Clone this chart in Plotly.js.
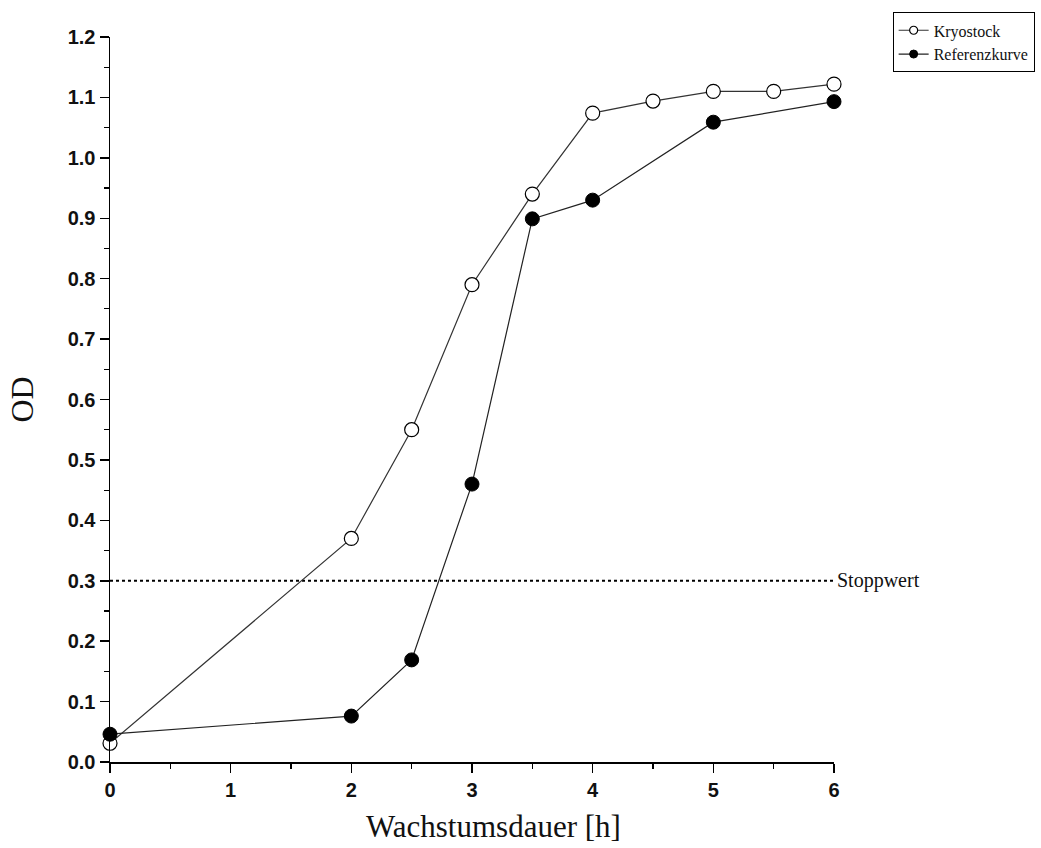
<!DOCTYPE html>
<html>
<head>
<meta charset="utf-8">
<script src="https://cdn.plot.ly/plotly-3.0.1.min.js"></script>
<style>html,body{margin:0;padding:0;background:#fff;}#chart{width:1041px;height:848px;}</style>
</head>
<body>
<div id="chart"></div>
<script>
const kryoX = [0, 2, 2.5, 3, 3.5, 4, 4.5, 5, 5.5, 6];
const kryoY = [0.031, 0.37, 0.55, 0.79, 0.94, 1.074, 1.094, 1.11, 1.11, 1.122];
const refX = [0, 2, 2.5, 3, 3.5, 4, 5, 6];
const refY = [0.046, 0.076, 0.169, 0.46, 0.899, 0.93, 1.059, 1.093];
const stopX = [0, 6];
const stopY = [0.3, 0.3];
const stopLabel = "Stoppwert";
const seriesNames = ["Kryostock", "Referenzkurve"];
const xTitle = "Wachstumsdauer [h]";
const yTitle = "OD";
const xTicks = [0, 1, 2, 3, 4, 5, 6];
const yTicks = [0, 0.1, 0.2, 0.3, 0.4, 0.5, 0.6, 0.7, 0.8, 0.9, 1.0, 1.1, 1.2];

const serif = 'Liberation Serif, Times New Roman, serif';
const traces = [
  {x: stopX, y: stopY, mode: 'lines', line: {color: '#000', width: 2, dash: 'dot'}, showlegend: false, hoverinfo: 'skip'},
  {x: kryoX, y: kryoY, name: seriesNames[0], mode: 'lines+markers', cliponaxis: false, showlegend: false,
   line: {color: '#333', width: 1.2},
   marker: {symbol: 'circle', size: 14, color: '#fff', line: {color: '#000', width: 1.2}}},
  {x: refX, y: refY, name: seriesNames[1], mode: 'lines+markers', cliponaxis: false, showlegend: false,
   line: {color: '#222', width: 1.2},
   marker: {symbol: 'circle', size: 14, color: '#000', line: {color: '#000', width: 1}}},
  // legend entries (smaller symbols, as in the reference legend)
  {x: [null], y: [null], name: seriesNames[0], mode: 'lines+markers',
   line: {color: '#333', width: 1.2}, marker: {symbol: 'circle', size: 8, color: '#fff', line: {color: '#000', width: 1.2}}},
  {x: [null], y: [null], name: seriesNames[1], mode: 'lines+markers',
   line: {color: '#222', width: 1.2}, marker: {symbol: 'circle', size: 8, color: '#000', line: {color: '#000', width: 1}}}
];

const tickFont = {family: 'Liberation Sans, Arial, sans-serif', size: 20, color: '#111', weight: 'bold'};
const layout = {
  width: 1041, height: 848,
  margin: {l: 110, r: 207, t: 37, b: 86, autoexpand: false},
  paper_bgcolor: '#fff', plot_bgcolor: '#fff',
  showlegend: true,
  legend: {x: 1.081, y: 1.034, xanchor: 'left', yanchor: 'top', bordercolor: '#000', borderwidth: 1,
    bgcolor: '#fff', font: {family: serif, size: 16, color: '#111'},
    itemwidth: 30, tracegroupgap: 0},
  xaxis: {range: [0, 6], tickvals: xTicks, ticktext: xTicks.map(String), showgrid: false, zeroline: false,
    automargin: false,
    showline: true, linecolor: '#000', linewidth: 1.5, ticks: 'outside', ticklen: 9, tickwidth: 1.5, tickcolor: '#000',
    minor: {dtick: 0.5, ticks: 'outside', ticklen: 5, tickwidth: 1.2, tickcolor: '#000', showgrid: false},
    tickfont: tickFont},
  yaxis: {range: [0, 1.2], tickvals: yTicks, ticktext: yTicks.map(v => v.toFixed(1)), showgrid: false, zeroline: false,
    automargin: false,
    showline: true, linecolor: '#000', linewidth: 1.5, ticks: 'outside', ticklen: 9, tickwidth: 1.5, tickcolor: '#000',
    minor: {dtick: 0.05, ticks: 'outside', ticklen: 5, tickwidth: 1.2, tickcolor: '#000', showgrid: false},
    tickfont: tickFont,
    title: {text: yTitle, font: {family: serif, size: 32, color: '#111'}, standoff: 24}},
  annotations: [
    {x: stopX[1], y: stopY[1], xref: 'x', yref: 'y', text: stopLabel, showarrow: false,
     xanchor: 'left', yanchor: 'middle', xshift: 1,
     font: {family: serif, size: 20, color: '#111'}},
    {x: 0.530, y: -0.089, xref: 'paper', yref: 'paper', text: xTitle, showarrow: false,
     xanchor: 'center', yanchor: 'middle',
     font: {family: serif, size: 31, color: '#111'}}
  ]
};

Plotly.newPlot('chart', traces, layout, {staticPlot: true, displayModeBar: false});
</script>
</body>
</html>
